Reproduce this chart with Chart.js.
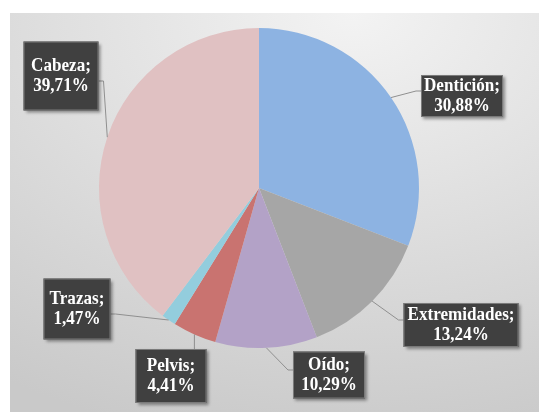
<!DOCTYPE html>
<html>
  <head>
    <meta charset="utf-8">
    <title>Distribución</title>
    <script src="https://cdn.jsdelivr.net/npm/chart.js@4/dist/chart.umd.min.js"></script>
    <style>
      html, body { margin: 0; padding: 0; background: #fff; }
      #wrap { position: relative; width: 539px; height: 412px; }
      #bg {
        position: absolute; left: 10px; top: 13px; right: 0; bottom: 0;
        background: radial-gradient(ellipse 120% 110% at 65% 0%, #f3f3f3 0%, #e0e0e0 45%, #c9c9c9 100%);
      }
      #chart { position: absolute; left: 0; top: 0; }
    </style>
  </head>
  <body>
    <div id="wrap">
      <div id="bg"></div>
      <canvas id="chart" width="539" height="412"></canvas>
    </div>
    <script>
      // datos
      var categorias = ['Dentición', 'Extremidades', 'Oído', 'Pelvis', 'Trazas', 'Cabeza'];
      var porcentajes = [30.88, 13.24, 10.29, 4.41, 1.47, 39.71];
      var colores = ['#8db3e2', '#a6a6a6', '#b3a2c7', '#c97370', '#93cddd', '#e0c1c2'];

      // label boxes: offset of box centre from pie centre, box width/height
      var etiquetas = [
        [203, -92, 82, 42],
        [202, 137, 115, 44],
        [70, 187, 72, 47],
        [-88, 188, 71, 54],
        [-182, 121, 67, 61],
        [-198, -112, 75, 69]
      ];

      var FUENTE = 'bold 18px "Liberation Serif", "Times New Roman", serif';

      function fmt(v){ return v.toFixed(2).replace('.', ',') + '%'; }

      var labelsPlugin = {
        id: 'cajas',
        afterDraw: function(chart){
          var ctx = chart.ctx;
          var arcs = chart.getDatasetMeta(0).data;
          ctx.save();
          arcs.forEach(function(arc, i){
            var p = etiquetas[i];
            var mid = (arc.startAngle + arc.endAngle) / 2;
            var ax = arc.x + Math.cos(mid) * arc.outerRadius;
            var ay = arc.y + Math.sin(mid) * arc.outerRadius;
            var cx = arc.x + p[0], cy = arc.y + p[1];
            var w = p[2], h = p[3];
            var l = cx - w/2, r = cx + w/2, t = cy - h/2;

            // leader line
            ctx.strokeStyle = '#8f8f8f';
            ctx.lineWidth = 1;
            ctx.beginPath();
            ctx.moveTo(ax, ay);
            if (ax > l && ax < r) {
              ctx.lineTo(ax, t);
            } else if (ax <= l) {
              ctx.lineTo(l - 5, cy - 5);
              ctx.lineTo(l, cy - 5);
            } else {
              ctx.lineTo(r + 5, cy + 5);
              ctx.lineTo(r, cy + 5);
            }
            ctx.stroke();

            // box
            ctx.shadowColor = 'rgba(0,0,0,0.4)';
            ctx.shadowBlur = 3;
            ctx.shadowOffsetX = 2;
            ctx.shadowOffsetY = 2;
            ctx.fillStyle = '#404040';
            ctx.fillRect(l, t, w, h);
            ctx.shadowColor = 'transparent';
            ctx.strokeStyle = '#7a7a7a';
            ctx.strokeRect(l + 0.5, t + 0.5, w - 1, h - 1);

            // text (slightly narrowed like the original)
            ctx.save();
            ctx.translate(cx, cy);
            ctx.scale(0.95, 1);
            ctx.fillStyle = '#ffffff';
            ctx.font = FUENTE;
            ctx.textAlign = 'center';
            ctx.textBaseline = 'middle';
            ctx.fillText(categorias[i] + ';', 0, -10);
            ctx.fillText(fmt(porcentajes[i]), 0, 10);
            ctx.restore();
          });
          ctx.restore();
        }
      };

      new Chart(document.getElementById('chart'), {
        type: 'pie',
        data: {
          labels: categorias,
          datasets: [{
            data: porcentajes,
            backgroundColor: colores,
            borderWidth: 0
          }]
        },
        options: {
          responsive: false,
          animation: false,
          layout: { padding: { left: 99, right: 120, top: 28, bottom: 64 } },
          plugins: { legend: { display: false }, tooltip: { enabled: false } }
        },
        plugins: [labelsPlugin]
      });
    </script>
  </body>
</html>
